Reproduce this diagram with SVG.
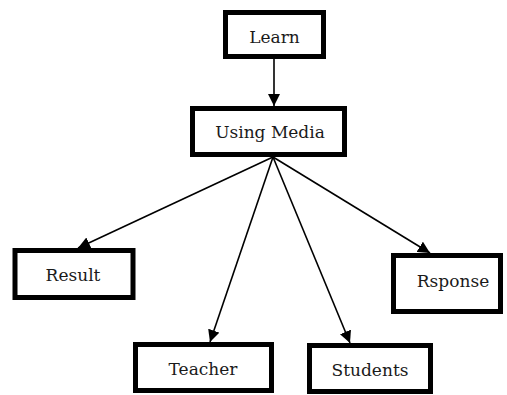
<svg xmlns="http://www.w3.org/2000/svg" width="507" height="395" viewBox="0 0 507 395">
<style>
.box{fill:#fff;stroke:#000;stroke-width:5}
.lbl{font-family:'DejaVu Serif','Liberation Serif',serif;font-size:17px;fill:#1a1a1a;text-anchor:middle}
.edge{stroke:#000;stroke-width:1.6;fill:none}
</style>
<defs>
<marker id="ah" markerUnits="userSpaceOnUse" viewBox="0 0 12 12" refX="12" refY="6" markerWidth="12" markerHeight="12" orient="auto">
<path d="M0,0 L12,6 L0,12 z" fill="#000"/>
</marker>
</defs>
<rect width="507" height="395" fill="#fff"/>
<g id="connectors">
<line class="edge" x1="274" y1="59" x2="274" y2="106" marker-end="url(#ah)"/>
<line class="edge" x1="273" y1="157" x2="78" y2="248" marker-end="url(#ah)"/>
<line class="edge" x1="273" y1="157" x2="210" y2="342" marker-end="url(#ah)"/>
<line class="edge" x1="273" y1="157" x2="350" y2="343" marker-end="url(#ah)"/>
<line class="edge" x1="273" y1="157" x2="430" y2="253" marker-end="url(#ah)"/>
</g>
<g id="learn"><rect class="box" x="225.5" y="12.5" width="98" height="44"/><text class="lbl" x="274.5" y="43">Learn</text></g>
<g id="using-media"><rect class="box" x="192.5" y="108.5" width="152" height="46"/><text class="lbl" x="270" y="138">Using Media</text></g>
<g id="result"><rect class="box" x="15" y="250.5" width="118" height="47"/><text class="lbl" x="73" y="281">Result</text></g>
<g id="teacher"><rect class="box" x="135.5" y="344.5" width="136" height="46"/><text class="lbl" x="203" y="375">Teacher</text></g>
<g id="students"><rect class="box" x="309.5" y="345.5" width="121" height="46"/><text class="lbl" x="370" y="376">Students</text></g>
<g id="rsponse"><rect class="box" x="393.5" y="255.5" width="107" height="56"/><text class="lbl" x="453" y="287">Rsponse</text></g>
</svg>
